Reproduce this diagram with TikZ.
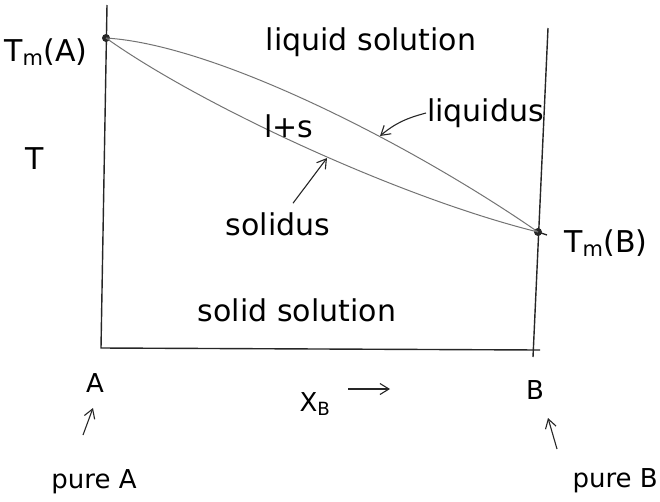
\documentclass[tikz,border=0pt]{standalone}
\usepackage{fontspec}
\setmainfont{DejaVu Sans}
\usetikzlibrary{arrows.meta}

\begin{document}
\begin{tikzpicture}[
    x=1pt, y=-1pt,
    axis/.style={line width=1.4pt, black!85},
    curve/.style={line width=1pt, black!55},
    dot/.style={circle, fill=black!85, inner sep=0pt, minimum size=8pt},
    lbl/.style={font=\fontsize{30}{36}\selectfont, inner sep=1pt},
    small/.style={font=\fontsize{26}{31}\selectfont, inner sep=1pt},
    arrow/.style={-{Straight Barb[length=9pt,width=11pt]}, line width=1.1pt, black!85}
]
\useasboundingbox (0,0) rectangle (660,501);

% Axes
\coordinate (yTop) at (107,5);
\coordinate (origin) at (101,348);
\coordinate (xEnd) at (540,350);
\coordinate (rTop) at (548,28);
\coordinate (rBot) at (533,357);
\draw[axis] (yTop) -- (origin) -- (xEnd);
\draw[axis] (rTop) -- (rBot);

% Melting points
\node[dot] (tmA) at (106,38) {};
\node[dot] (tmB) at (538,232) {};
\draw[axis] (tmB.center) -- ++(9,3);

% Liquidus and solidus
\draw[curve] (tmA.center) .. controls (220,45) and (420,150) .. (tmB.center);
\draw[curve] (tmA.center) .. controls (200,105) and (400,198) .. (tmB.center);
\coordinate (liqpt) at (380,136);
\coordinate (solpt) at (327,158);

% Region and curve labels
\node[lbl] (liquid) at (371,42) {liquid solution};
\node[lbl] (lps) at (289,126) {l+s};
\node[lbl] (solid) at (297,310) {solid solution};
\node[lbl, anchor=west] (liqlbl) at (426,113) {liquidus};
\node[lbl] (sollbl) at (278,224) {solidus};
\draw[arrow] (liqlbl.west) to[out=195, in=40] (liqpt);
\draw[arrow] ([xshift=15pt,yshift=8pt]sollbl.north) -- (solpt);

% Temperature labels
\node[lbl] (tmAlbl) at (46,52) {T\textsubscript{m}(A)};
\node[lbl] (tmBlbl) at (606,243) {T\textsubscript{m}(B)};
\node[lbl] (tlbl) at (35,159) {T};

% Composition labels
\node[small] (Albl) at (95,383) {A};
\node[small] (Blbl) at (535,390) {B};
\node[small] (xb) at (315,404) {X\textsubscript{B}};
\coordinate (xArrS) at (348,389);
\coordinate (xArrE) at (390,389);
\draw[arrow] (xArrS) -- (xArrE);

% Pure components
\node[small] (pureA) at (94,482) {pure A};
\node[small, anchor=east] (pureB) at (659,481) {pure B};
\coordinate (aArrS) at (83,435);
\coordinate (aArrE) at (93,408);
\coordinate (bArrS) at (557,449);
\coordinate (bArrE) at (548,418);
\draw[arrow] (aArrS) -- (aArrE);
\draw[arrow] (bArrS) -- (bArrE);

\end{tikzpicture}
\end{document}
